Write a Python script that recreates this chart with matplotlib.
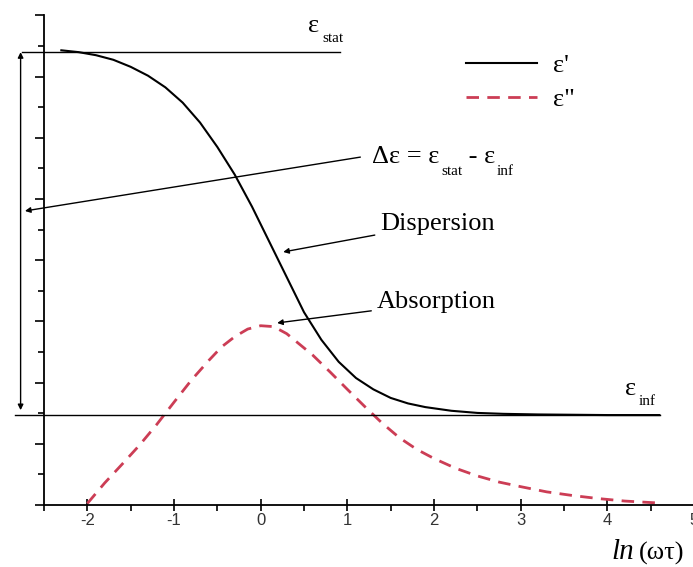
import matplotlib.pyplot as plt
from matplotlib.ticker import MultipleLocator, NullFormatter

plt.rcParams['axes.unicode_minus'] = False

# readings of the two curves (x = ln(omega tau))
x_real = [-2.3, -2.1, -1.9, -1.7, -1.5, -1.3, -1.1, -0.9, -0.7, -0.5, -0.3, -0.1,
          0.1, 0.3, 0.5, 0.7, 0.9, 1.1, 1.3, 1.5, 1.7, 1.9, 2.2, 2.5, 2.8, 3.2,
          3.6, 4.0, 4.6]
eps_real = [14.86, 14.8, 14.7, 14.55, 14.32, 14.03, 13.65, 13.15, 12.5, 11.7,
            10.8, 9.75, 8.6, 7.45, 6.3, 5.4, 4.68, 4.15, 3.78, 3.5, 3.32, 3.2,
            3.08, 3.01, 2.98, 2.96, 2.95, 2.94, 2.94]

x_imag = [-2.0, -1.8, -1.6, -1.4, -1.2, -1.0, -0.8, -0.6, -0.45, -0.3, -0.15,
          0.0, 0.15, 0.3, 0.45, 0.6, 0.8, 1.0, 1.2, 1.4, 1.6, 1.8, 2.0, 2.25,
          2.5, 2.75, 3.0, 3.3, 3.6, 3.9, 4.2, 4.57]
eps_imag = [0.05, 0.72, 1.33, 1.95, 2.63, 3.36, 4.08, 4.72, 5.17, 5.5, 5.75,
            5.86, 5.83, 5.6, 5.25, 4.9, 4.35, 3.78, 3.22, 2.68, 2.2, 1.82, 1.52,
            1.2, 0.95, 0.75, 0.6, 0.43, 0.31, 0.21, 0.13, 0.07]

eps_stat = 14.8
eps_inf = 2.94
xticks = [-2, -1, 0, 1, 2, 3, 4, 5]

red = '#cc3d55'
serif = 'Liberation Serif'

fig = plt.figure(figsize=(6.93, 5.67), dpi=100)
ax = fig.add_axes([0.0635, 0.1093, 0.938, 0.8635])

ax.plot(x_real, eps_real, color='black', lw=1.5, label="ε'")
ax.plot(x_imag, eps_imag, color=red, lw=2, dashes=(4.5, 3), label='ε"')

# reference levels
ax.plot([-2.75, 0.92], [eps_stat, eps_stat], color='black', lw=1, clip_on=False)
ax.plot([-2.83, 4.61], [eps_inf, eps_inf], color='black', lw=1, clip_on=False)

ax.set_xlim(-2.5, 5.0)
ax.set_ylim(0, 16)
ax.spines['top'].set_visible(False)
ax.spines['right'].set_visible(False)
ax.spines['left'].set_linewidth(1.3)
ax.spines['bottom'].set_linewidth(1.3)

ax.set_xticks(xticks)
ax.xaxis.set_minor_locator(MultipleLocator(0.5))
ax.yaxis.set_major_locator(MultipleLocator(2))
ax.yaxis.set_minor_locator(MultipleLocator(1))
ax.yaxis.set_major_formatter(NullFormatter())
ax.tick_params(axis='x', which='major', direction='inout', length=8, width=1.2,
               labelsize=12, labelcolor='#333333', pad=2)
ax.tick_params(axis='x', which='minor', direction='out', length=4, width=1.2)
ax.tick_params(axis='y', which='major', direction='out', length=6.5, width=1.2)
ax.tick_params(axis='y', which='minor', direction='out', length=4, width=1.2)
for lab in ax.get_xticklabels():
    lab.set_family('Liberation Sans')


def after(prev, s, y, size, dx=1):
    # text that follows the previous one, baseline at data y
    return ax.annotate(s, xy=(1, y), xycoords=(prev, 'data'), xytext=(dx, 0),
                       textcoords='offset points', fontsize=size, family=serif,
                       va='baseline', annotation_clip=False)


# x label
t = ax.text(4.05, -1.78, 'ln', fontsize=21, style='italic', family=serif,
            va='baseline', clip_on=False)
after(t, '(ωτ)', -1.78, 19, dx=3)

# epsilon labels
t = ax.text(0.55, 15.46, 'ε', fontsize=19, family=serif, va='baseline')
after(t, 'stat', 15.12, 11, dx=2)
t = ax.text(4.2, 3.59, 'ε', fontsize=19, family=serif, va='baseline')
after(t, 'inf', 3.27, 11, dx=2)

# delta epsilon double arrow
ax.annotate('', xy=(-2.77, 14.8), xytext=(-2.77, 3.1), annotation_clip=False,
            arrowprops=dict(arrowstyle='<|-|>', lw=1, color='black',
                            mutation_scale=8, shrinkA=0, shrinkB=0))

t = ax.text(1.29, 11.18, 'Δε = ε', fontsize=19, family=serif, va='baseline')
t = after(t, 'stat', 10.78, 11, dx=1)
t = after(t, ' - ε', 11.18, 19, dx=0)
after(t, 'inf', 10.78, 11, dx=1)
ax.annotate('', xy=(-2.72, 9.61), xytext=(1.15, 11.37), annotation_clip=False,
            arrowprops=dict(arrowstyle='-|>', lw=1, color='black',
                            mutation_scale=8, shrinkA=0, shrinkB=0))

ax.annotate('Dispersion', xy=(0.26, 8.27), xytext=(1.38, 9.2), fontsize=19,
            family=serif, va='center',
            arrowprops=dict(arrowstyle='-|>', lw=1, color='black',
                            mutation_scale=8, shrinkA=2, shrinkB=0))
ax.annotate('Absorption', xy=(0.19, 5.95), xytext=(1.34, 6.62), fontsize=19,
            family=serif, va='center',
            arrowprops=dict(arrowstyle='-|>', lw=1, color='black',
                            mutation_scale=8, shrinkA=2, shrinkB=0))

leg = ax.legend(loc='upper left', bbox_to_anchor=(0.612, 0.97), frameon=False,
                handlelength=2.7, handletextpad=0.6, labelspacing=0.4,
                prop={'family': serif, 'size': 19})

fig.savefig('out.png', dpi=100)
